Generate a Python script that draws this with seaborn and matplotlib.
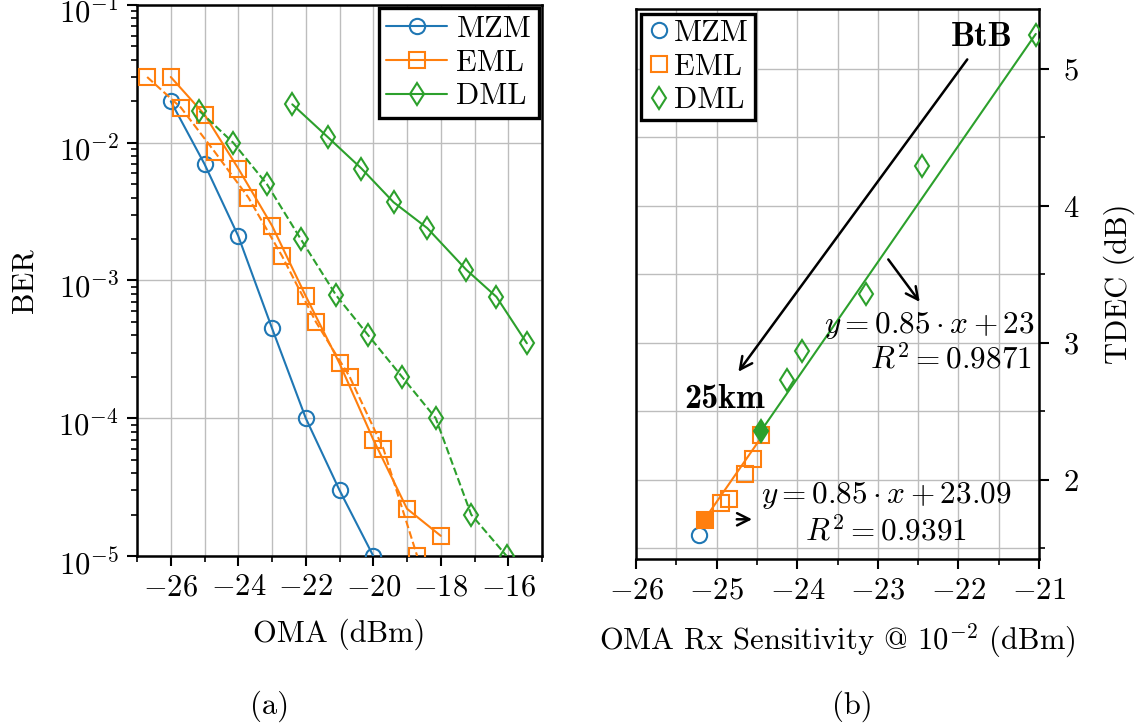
import numpy as np
import matplotlib
matplotlib.use("Agg")
import matplotlib.pyplot as plt
from matplotlib.lines import Line2D
from matplotlib.ticker import MultipleLocator
from matplotlib.transforms import ScaledTranslation
import seaborn as sns

# ---------------- data ----------------
# (a) BER versus received OMA
mzm_oma = [-26, -25, -24, -23, -22, -21, -20]
mzm_ber = [2.0e-2, 7.0e-3, 2.1e-3, 4.5e-4, 1.0e-4, 3.0e-5, 1.0e-5]

eml_btb_oma = [-26, -25, -24, -23, -22, -21, -20, -19, -18]
eml_btb_ber = [3.0e-2, 1.6e-2, 6.5e-3, 2.5e-3, 7.7e-4, 2.5e-4, 7.0e-5, 2.2e-5, 1.4e-5]

eml_25_oma = [-26.7, -25.7, -24.7, -23.7, -22.7, -21.7, -20.7, -19.7, -18.7]
eml_25_ber = [3.0e-2, 1.8e-2, 8.6e-3, 4.0e-3, 1.5e-3, 5.0e-4, 2.0e-4, 6.0e-5, 1.0e-5]

dml_btb_oma = [-22.4, -21.35, -20.35, -19.4, -18.4, -17.25, -16.35, -15.45]
dml_btb_ber = [1.9e-2, 1.1e-2, 6.5e-3, 3.7e-3, 2.4e-3, 1.2e-3, 7.6e-4, 3.5e-4]

dml_25_oma = [-25.15, -24.15, -23.15, -22.15, -21.1, -20.15, -19.15, -18.15, -17.1, -16.05]
dml_25_ber = [1.7e-2, 1.0e-2, 5.0e-3, 2.0e-3, 7.8e-4, 4.0e-4, 2.0e-4, 1.0e-4, 2.0e-5, 1.0e-5]

# (b) TDEC versus OMA sensitivity at BER 1e-2
mzm_sens = [-25.22]
mzm_tdec = [1.60]

eml_ref_sens = [-25.14]
eml_ref_tdec = [1.71]
eml_sens = [-24.94, -24.85, -24.65, -24.55, -24.45]
eml_tdec = [1.83, 1.86, 2.04, 2.15, 2.33]

dml_ref_sens = [-24.45]
dml_ref_tdec = [2.36]
dml_sens = [-24.13, -23.94, -23.15, -22.45, -21.04]
dml_tdec = [2.73, 2.94, 3.36, 4.29, 5.25]

# linear fits (slope, intercept) and goodness of fit
eml_fit = (0.85, 23.09)
eml_r2 = 0.9391
dml_fit = (0.85, 23.14)
dml_r2 = 0.9871

series_names = ["MZM", "EML", "DML"]

# ---------------- style ----------------
sns.set_style("ticks", rc={
    "axes.edgecolor": "black", "text.color": "black",
    "axes.labelcolor": "black", "xtick.color": "black", "ytick.color": "black",
})
plt.rcParams["font.family"] = ["cmr10", "DejaVu Serif"]
plt.rcParams["mathtext.fontset"] = "cm"
plt.rcParams["axes.formatter.use_mathtext"] = True

BLUE, ORANGE, GREEN = "#1f77b4", "#ff7f0e", "#2ca02c"
FS = 22
FS_EQ = 22.5
FS_BOLD = 24.5
LW = 1.5
GRID = dict(color="#bdbdbd", linewidth=1.0)
BOLD = ["cmb10", "DejaVu Serif"]

fig = plt.figure(figsize=(11.39, 7.26), dpi=100)
ax1 = fig.add_axes([0.1203, 0.2342, 0.3556, 0.7589])
ax2 = fig.add_axes([0.5584, 0.2300, 0.3538, 0.7576])


def curve(ax, x, y, color, marker, ls="-", ms=11, filled=False, lw=LW, z=3):
    sns.lineplot(x=x, y=y, ax=ax, color=color, marker=marker, linestyle=ls,
                 lw=lw, markersize=ms, markeredgewidth=1.5,
                 markeredgecolor=color,
                 markerfacecolor=color if filled else "none",
                 estimator=None, sort=False, zorder=z)


# ---------------- (a) ----------------
curve(ax1, mzm_oma, mzm_ber, BLUE, "o")
curve(ax1, eml_btb_oma, eml_btb_ber, ORANGE, "s")
curve(ax1, eml_25_oma, eml_25_ber, ORANGE, "s", ls="--")
curve(ax1, dml_btb_oma, dml_btb_ber, GREEN, "d", ms=11.5)
curve(ax1, dml_25_oma, dml_25_ber, GREEN, "d", ls="--", ms=11.5)

ax1.set_yscale("log")
ax1.set_xlim(-27, -15)
ax1.set_ylim(1e-5, 1e-1)
ax1.xaxis.set_major_locator(MultipleLocator(2))
ax1.xaxis.set_minor_locator(MultipleLocator(1))
ax1.grid(which="major", axis="both", **GRID)
ax1.grid(which="minor", axis="x", **GRID)
ax1.set_axisbelow(True)
ax1.set_xlabel("OMA (dBm)", fontsize=FS, labelpad=12)
ax1.set_ylabel("BER", fontsize=FS, labelpad=14)

handles_a = [
    Line2D([], [], color=c, marker=m, lw=LW, ms=ms, mew=1.5, mfc="none", mec=c)
    for c, m, ms in zip([BLUE, ORANGE, GREEN], ["o", "s", "d"], [11, 11, 11.5])
]
leg1 = ax1.legend(handles_a, series_names, loc="upper right", fontsize=FS,
                  frameon=True, fancybox=False, framealpha=1, edgecolor="black",
                  borderaxespad=0.1, borderpad=0.25, labelspacing=0.2,
                  handlelength=2.0, handletextpad=0.3)
leg1.get_frame().set_linewidth(2.4)

# ---------------- (b) ----------------
eml_all = np.array(eml_ref_sens + eml_sens)
dml_all = np.array(dml_ref_sens + dml_sens)
xe = np.linspace(eml_all.min(), eml_all.max(), 2)
xd = np.linspace(dml_all.min(), dml_all.max(), 2)
sns.lineplot(x=xe, y=eml_fit[0] * xe + eml_fit[1], ax=ax2, color=ORANGE, lw=LW, zorder=2)
sns.lineplot(x=xd, y=dml_fit[0] * xd + dml_fit[1], ax=ax2, color=GREEN, lw=LW, zorder=2)

curve(ax2, mzm_sens, mzm_tdec, BLUE, "o", ls="none")
curve(ax2, eml_sens, eml_tdec, ORANGE, "s", ls="none")
curve(ax2, eml_ref_sens, eml_ref_tdec, ORANGE, "s", ls="none", filled=True, z=4)
curve(ax2, dml_sens, dml_tdec, GREEN, "d", ls="none", ms=11.5)
curve(ax2, dml_ref_sens, dml_ref_tdec, GREEN, "d", ls="none", ms=11.5, filled=True, z=5)

ax2.set_xlim(-26, -21)
ax2.set_ylim(1.423, 5.438)
ax2.xaxis.set_major_locator(MultipleLocator(1))
ax2.xaxis.set_minor_locator(MultipleLocator(0.5))
ax2.yaxis.set_major_locator(MultipleLocator(1))
ax2.yaxis.set_minor_locator(MultipleLocator(0.5))
ax2.yaxis.tick_right()
ax2.yaxis.set_label_position("right")
ax2.grid(which="both", axis="both", **GRID)
ax2.set_axisbelow(True)
ax2.set_xlabel(r"OMA Rx Sensitivity @ $10^{-2}$ (dBm)", fontsize=FS, labelpad=12)
ax2.set_ylabel("TDEC (dB)", fontsize=FS, labelpad=18)

handles_b = [
    Line2D([], [], ls="none", marker=m, ms=ms, mew=1.5, mfc="none", mec=c)
    for c, m, ms in zip([BLUE, ORANGE, GREEN], ["o", "s", "d"], [11, 11, 11.5])
]
leg2 = ax2.legend(handles_b, series_names, loc="upper left", fontsize=FS,
                  frameon=True, fancybox=False, framealpha=1, edgecolor="black",
                  borderaxespad=0.15, borderpad=0.2, labelspacing=0.2,
                  handlelength=0.8, handletextpad=0.1)
leg2.get_frame().set_linewidth(2.4)

arrow = dict(arrowstyle="->", lw=1.8, color="black", mutation_scale=22,
             shrinkA=0, shrinkB=0)
ax2.annotate("", xy=(-24.73, 2.79), xytext=(-21.89, 5.07), arrowprops=arrow)
ax2.annotate("", xy=(-22.48, 3.30), xytext=(-22.87, 3.61), arrowprops=arrow)
ax2.annotate("", xy=(-24.56, 1.713), xytext=(-24.75, 1.713), arrowprops=arrow)
ax2.text(-21.71, 5.23, "BtB", fontsize=FS_BOLD, family=BOLD,
         ha="center", va="center")
ax2.text(-24.90, 2.59, "25km", fontsize=FS_BOLD, family=BOLD,
         ha="center", va="center")

ax2.text(-21.05, 3.13, r"$y = %.2f \cdot x + %.0f$" % dml_fit,
         fontsize=FS_EQ, ha="right", va="center")
ax2.text(-21.09, 2.876, r"$R^2 = %.4f$" % dml_r2,
         fontsize=FS_EQ, ha="right", va="center")
ax2.text(-22.90, 1.89, r"$y = %.2f \cdot x + %.2f$" % eml_fit,
         fontsize=FS_EQ, ha="center", va="center")
ax2.text(-22.90, 1.62, r"$R^2 = %.4f$" % eml_r2,
         fontsize=FS_EQ, ha="center", va="center")

for ax in (ax1, ax2):
    for s in ax.spines.values():
        s.set_linewidth(1.8)
        s.set_visible(True)
    ax.tick_params(which="major", direction="out", length=7, width=1.5,
                   labelsize=FS, pad=6)
    ax.tick_params(which="minor", direction="out", length=4.5, width=1.2)
    ax.tick_params(axis="both", which="both", colors="black")
ax2.tick_params(axis="y", which="major", pad=10)

fig.text(270 / 1139, 1 - 706 / 726, "(a)", fontsize=FS, ha="center", va="center")
fig.text(852 / 1139, 1 - 706 / 726, "(b)", fontsize=FS, ha="center", va="center")

# nudge the decade labels down a little so the top one stays inside the figure
fig.canvas.draw()
shift = ScaledTranslation(0, -4 / 72, fig.dpi_scale_trans)
for lab in ax1.get_yticklabels():
    lab.set_transform(lab.get_transform() + shift)

fig.savefig("out.png", dpi=100)
